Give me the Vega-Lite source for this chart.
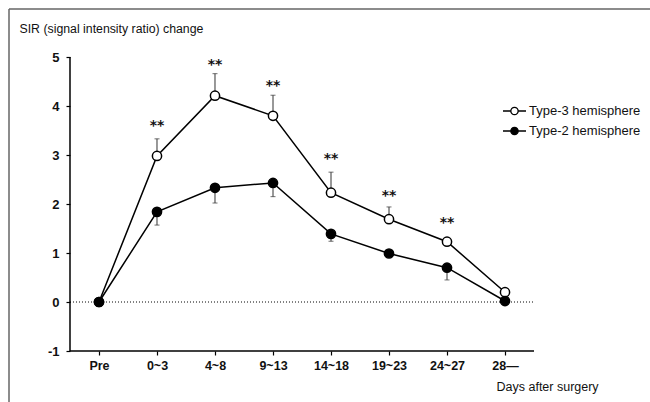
{
  "$schema": "https://vega.github.io/schema/vega-lite/v6.json",
  "width": 642,
  "height": 394,
  "padding": {"left": 8, "top": 8, "right": 0, "bottom": 0},
  "background": "white",
  "config": {
    "view": {"stroke": null},
    "font": "Liberation Sans"
  },
  "datasets": {
    "sir": [
      {"day": "Pre", "idx": 0, "group": "Type-3 hemisphere", "value": 0, "err": null},
      {"day": "0~3", "idx": 1, "group": "Type-3 hemisphere", "value": 2.98, "err": 3.33},
      {"day": "4~8", "idx": 2, "group": "Type-3 hemisphere", "value": 4.21, "err": 4.66},
      {"day": "9~13", "idx": 3, "group": "Type-3 hemisphere", "value": 3.8, "err": 4.22},
      {"day": "14~18", "idx": 4, "group": "Type-3 hemisphere", "value": 2.23, "err": 2.65},
      {"day": "19~23", "idx": 5, "group": "Type-3 hemisphere", "value": 1.69, "err": 1.94},
      {"day": "24~27", "idx": 6, "group": "Type-3 hemisphere", "value": 1.23, "err": null},
      {"day": "28—", "idx": 7, "group": "Type-3 hemisphere", "value": 0.2, "err": null},
      {"day": "Pre", "idx": 0, "group": "Type-2 hemisphere", "value": 0, "err": null},
      {"day": "0~3", "idx": 1, "group": "Type-2 hemisphere", "value": 1.84, "err": 1.57},
      {"day": "4~8", "idx": 2, "group": "Type-2 hemisphere", "value": 2.33, "err": 2.02},
      {"day": "9~13", "idx": 3, "group": "Type-2 hemisphere", "value": 2.43, "err": 2.15},
      {"day": "14~18", "idx": 4, "group": "Type-2 hemisphere", "value": 1.39, "err": 1.24},
      {"day": "19~23", "idx": 5, "group": "Type-2 hemisphere", "value": 0.99, "err": null},
      {"day": "24~27", "idx": 6, "group": "Type-2 hemisphere", "value": 0.7, "err": 0.45},
      {"day": "28—", "idx": 7, "group": "Type-2 hemisphere", "value": 0.02, "err": null}
    ],
    "stars": [
      {"idx": 1, "y": 3.69},
      {"idx": 2, "y": 4.93},
      {"idx": 3, "y": 4.52},
      {"idx": 4, "y": 3.02},
      {"idx": 5, "y": 2.27},
      {"idx": 6, "y": 1.71}
    ]
  },
  "layer": [
    {
      "data": {"values": [{}]},
      "mark": {"type": "rule", "color": "black", "strokeWidth": 1.5},
      "encoding": {
        "x": {"datum": -0.5, "type": "quantitative", "scale": {"domain": [-1.5517, 9.5172], "nice": false, "zero": false},
          "axis": {"values": [0, 1, 2, 3, 4, 5, 6, 7], "orient": "bottom", "offset": -52, "domain": false, "grid": false,
            "tickSize": 4, "tickColor": "black", "tickWidth": 1.2,
            "labelExpr": "['Pre','0~3','4~8','9~13','14~18','19~23','24~27','28—'][datum.value]",
            "labelFont": "Liberation Sans", "labelFontSize": 12.5, "labelFontWeight": "bold", "labelColor": "#111", "labelPadding": 4,
            "title": "Days after surgery", "titleFont": "Liberation Sans", "titleFontSize": 12.5, "titleFontWeight": "normal", "titleColor": "#111",
            "titleAlign": "left", "titleBaseline": "middle", "titleX": 487, "titleY": 35}},
        "y": {"datum": -1, "type": "quantitative", "scale": {"domain": [-2.0612, 5.9796], "nice": false, "zero": false},
          "axis": {"values": [-1, 0, 1, 2, 3, 4, 5], "orient": "left", "offset": -61, "domain": false, "grid": false,
            "tickSize": 4, "tickColor": "black", "tickWidth": 1.2,
            "labelExpr": "'' + datum.value",
            "labelFont": "Liberation Sans", "labelFontSize": 13, "labelFontWeight": "bold", "labelColor": "#111", "labelPadding": 7,
            "title": "SIR (signal intensity ratio) change", "titleFont": "Liberation Sans", "titleFontSize": 12.3, "titleFontWeight": "normal", "titleColor": "#111",
            "titleAngle": 0, "titleAlign": "left", "titleBaseline": "middle", "titleX": -51, "titleY": 19}},
        "y2": {"datum": 5}
      }
    },
    {
      "data": {"values": [{}]},
      "mark": {"type": "rule", "color": "#666666", "strokeWidth": 1.5},
      "encoding": {
        "x": {"datum": -1.5517, "type": "quantitative"},
        "x2": {"datum": 9.5172},
        "y": {"datum": 5.9796, "type": "quantitative"}
      }
    },
    {
      "data": {"values": [{}]},
      "mark": {"type": "rule", "color": "#666666", "strokeWidth": 1.5},
      "encoding": {
        "x": {"datum": -1.5517, "type": "quantitative"},
        "y": {"datum": 5.9796, "type": "quantitative"},
        "y2": {"datum": -2.0612}
      }
    },
    {
      "data": {"values": [{}]},
      "mark": {"type": "rule", "color": "black", "strokeWidth": 1.5},
      "encoding": {
        "x": {"datum": -0.5, "type": "quantitative"},
        "x2": {"datum": 7.5},
        "y": {"datum": -1, "type": "quantitative"}
      }
    },
    {
      "data": {"values": [{}]},
      "mark": {"type": "rule", "color": "black", "strokeWidth": 1, "strokeDash": [1, 2]},
      "encoding": {
        "x": {"datum": -0.5, "type": "quantitative"},
        "x2": {"datum": 7.5},
        "y": {"datum": 0, "type": "quantitative"}
      }
    },
    {
      "data": {"name": "sir"},
      "transform": [{"filter": "datum.err != null"}],
      "mark": {"type": "rule", "color": "#333", "strokeWidth": 1},
      "encoding": {
        "x": {"field": "idx", "type": "quantitative"},
        "y": {"field": "value", "type": "quantitative"},
        "y2": {"field": "err"}
      }
    },
    {
      "data": {"name": "sir"},
      "transform": [{"filter": "datum.err != null"}],
      "mark": {"type": "tick", "orient": "horizontal", "color": "#333", "size": 5, "thickness": 1},
      "encoding": {
        "x": {"field": "idx", "type": "quantitative"},
        "y": {"field": "err", "type": "quantitative"}
      }
    },
    {
      "data": {"name": "sir"},
      "mark": {"type": "line", "color": "black", "strokeWidth": 1.5},
      "encoding": {
        "x": {"field": "idx", "type": "quantitative"},
        "y": {"field": "value", "type": "quantitative"},
        "detail": {"field": "group"}
      }
    },
    {
      "data": {"name": "sir"},
      "mark": {"type": "point", "shape": "circle", "filled": true, "size": 85, "stroke": "black", "strokeWidth": 1.5, "opacity": 1},
      "encoding": {
        "x": {"field": "idx", "type": "quantitative"},
        "y": {"field": "value", "type": "quantitative"},
        "fill": {"field": "group", "type": "nominal",
          "scale": {"domain": ["Type-3 hemisphere", "Type-2 hemisphere"], "range": ["white", "black"]},
          "legend": {"orient": "none", "legendX": 493, "legendY": 89.5, "title": null, "padding": 0,
            "symbolType": "M-1,0H-0.32M0.32,0H1M-0.32,0A0.32,0.32,0,1,0,0.32,0A0.32,0.32,0,1,0,-0.32,0Z",
            "symbolSize": 529, "symbolStrokeColor": "black", "symbolStrokeWidth": 1.3,
            "labelFont": "Liberation Sans", "labelFontSize": 13, "labelColor": "#111", "labelOffset": 2, "rowPadding": 0}}
      }
    },
    {
      "data": {"name": "stars"},
      "mark": {"type": "text", "text": "**", "font": "DejaVu Sans", "fontSize": 14, "fontWeight": "bold", "align": "center", "baseline": "alphabetic", "dy": 9, "color": "#111"},
      "encoding": {
        "x": {"field": "idx", "type": "quantitative"},
        "y": {"field": "y", "type": "quantitative"}
      }
    }
  ]
}
